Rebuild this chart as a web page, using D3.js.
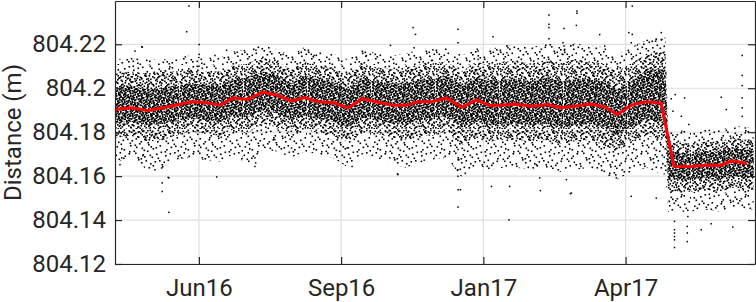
<!DOCTYPE html>
<html>
<head>
<meta charset="utf-8">
<script src="https://cdn.jsdelivr.net/npm/d3@7"></script>
<style>
    body { margin: 0; background: #fff; }
    text { font-family: Roboto, "Noto Sans", sans-serif; fill: #262626; }
</style>
</head>
<body>
<script>
// running median of the distance series (red line)
const medianDates = [
    "2016-04-17", "2016-04-28", "2016-05-10", "2016-05-21", "2016-05-30", "2016-06-09",
    "2016-06-18", "2016-06-30", "2016-07-09", "2016-07-19", "2016-07-30", "2016-08-09",
    "2016-08-19", "2016-08-28", "2016-09-08", "2016-09-17", "2016-09-28", "2016-10-08",
    "2016-10-18", "2016-10-29", "2016-11-08", "2016-11-17", "2016-11-26", "2016-12-06",
    "2016-12-17", "2016-12-27", "2017-01-06", "2017-01-15", "2017-01-24", "2017-02-04",
    "2017-02-15", "2017-02-24", "2017-03-06", "2017-03-17", "2017-03-27", "2017-04-05",
    "2017-04-15", "2017-04-26", "2017-05-06", "2017-05-15", "2017-05-26", "2017-06-07",
    "2017-06-16", "2017-06-25", "2017-07-05"
];
const medianValues = [
    804.1903, 804.1911, 804.1898, 804.1911, 804.1924, 804.1938,
    804.1936, 804.1923, 804.1956, 804.1949, 804.1982, 804.1968,
    804.1941, 804.1958, 804.1937, 804.1935, 804.1911, 804.1952,
    804.1937, 804.1923, 804.1923, 804.1939, 804.1939, 804.1956,
    804.1913, 804.1947, 804.1921, 804.1924, 804.1927, 804.1918,
    804.1926, 804.1911, 804.1918, 804.1928, 804.1917, 804.1880,
    804.1923, 804.1939, 804.1932, 804.1645, 804.1643, 804.1651,
    804.1648, 804.1670, 804.1657
];

// spread of the raw samples, read per ~10 days
const bandDates = [
    "2016-04-17", "2016-04-28", "2016-05-10", "2016-05-21", "2016-05-30", "2016-06-09",
    "2016-06-18", "2016-06-30", "2016-07-09", "2016-07-19", "2016-07-30", "2016-08-09",
    "2016-08-19", "2016-08-28", "2016-09-08", "2016-09-17", "2016-09-28", "2016-10-08",
    "2016-10-18", "2016-10-29", "2016-11-08", "2016-11-17", "2016-11-26", "2016-12-06",
    "2016-12-17", "2016-12-27", "2017-01-06", "2017-01-15", "2017-01-24", "2017-02-04",
    "2017-02-15", "2017-02-24", "2017-03-06", "2017-03-17", "2017-03-27", "2017-04-05",
    "2017-04-15", "2017-04-26", "2017-05-06", "2017-05-09", "2017-05-11", "2017-05-15",
    "2017-05-26", "2017-06-07", "2017-06-16", "2017-06-25", "2017-07-05", "2017-07-10"
];
const outerHigh = [
    804.2131, 804.2140, 804.2131, 804.2131, 804.2140, 804.2149, 804.2140, 804.2140,
    804.2167, 804.2177, 804.2199, 804.2177, 804.2149, 804.2186, 804.2167, 804.2158,
    804.2131, 804.2177, 804.2158, 804.2149, 804.2158, 804.2177, 804.2177, 804.2186,
    804.2149, 804.2186, 804.2177, 804.2195, 804.2195, 804.2186, 804.2204, 804.2195,
    804.2204, 804.2195, 804.2186, 804.2149, 804.2186, 804.2222, 804.2231, 804.2231,
    804.1803, 804.1812, 804.1803, 804.1812, 804.1812, 804.1830, 804.1821, 804.1821
];
const midHigh = [
    804.2067, 804.2076, 804.2067, 804.2076, 804.2076, 804.2085, 804.2076, 804.2076,
    804.2104, 804.2113, 804.2140, 804.2122, 804.2085, 804.2122, 804.2104, 804.2094,
    804.2058, 804.2113, 804.2094, 804.2085, 804.2094, 804.2113, 804.2113, 804.2122,
    804.2076, 804.2122, 804.2104, 804.2122, 804.2122, 804.2113, 804.2131, 804.2113,
    804.2131, 804.2122, 804.2113, 804.2076, 804.2113, 804.2158, 804.2167, 804.2167,
    804.1757, 804.1757, 804.1748, 804.1757, 804.1757, 804.1775, 804.1766, 804.1766
];
const coreHigh = [
    804.2003, 804.2012, 804.1994, 804.2003, 804.2012, 804.2022, 804.2017, 804.2012,
    804.2040, 804.2049, 804.2076, 804.2058, 804.2022, 804.2058, 804.2040, 804.2031,
    804.1994, 804.2049, 804.2031, 804.2022, 804.2022, 804.2040, 804.2040, 804.2058,
    804.2012, 804.2049, 804.2031, 804.2040, 804.2040, 804.2031, 804.2049, 804.2031,
    804.2040, 804.2040, 804.2031, 804.1994, 804.2031, 804.2085, 804.2085, 804.2085,
    804.1712, 804.1712, 804.1702, 804.1712, 804.1712, 804.1730, 804.1721, 804.1721
];
const coreLow = [
    804.1839, 804.1848, 804.1830, 804.1839, 804.1848, 804.1866, 804.1857, 804.1848,
    804.1876, 804.1866, 804.1903, 804.1885, 804.1857, 804.1876, 804.1857, 804.1848,
    804.1821, 804.1866, 804.1857, 804.1839, 804.1839, 804.1857, 804.1857, 804.1876,
    804.1821, 804.1857, 804.1830, 804.1839, 804.1839, 804.1830, 804.1839, 804.1821,
    804.1830, 804.1839, 804.1821, 804.1784, 804.1830, 804.1857, 804.1848, 804.1848,
    804.1584, 804.1584, 804.1584, 804.1593, 804.1584, 804.1602, 804.1593, 804.1593
];
const midLow = [
    804.1775, 804.1784, 804.1757, 804.1766, 804.1784, 804.1803, 804.1794, 804.1784,
    804.1812, 804.1794, 804.1839, 804.1821, 804.1794, 804.1812, 804.1794, 804.1784,
    804.1757, 804.1803, 804.1794, 804.1775, 804.1766, 804.1784, 804.1784, 804.1803,
    804.1739, 804.1784, 804.1757, 804.1766, 804.1766, 804.1757, 804.1766, 804.1748,
    804.1757, 804.1766, 804.1739, 804.1712, 804.1757, 804.1784, 804.1766, 804.1766,
    804.1529, 804.1529, 804.1529, 804.1538, 804.1529, 804.1547, 804.1538, 804.1538
];
const outerLow = [
    804.1666, 804.1675, 804.1629, 804.1638, 804.1675, 804.1684, 804.1675, 804.1666,
    804.1698, 804.1652, 804.1721, 804.1712, 804.1684, 804.1712, 804.1698, 804.1684,
    804.1638, 804.1698, 804.1684, 804.1652, 804.1638, 804.1666, 804.1675, 804.1684,
    804.1593, 804.1652, 804.1629, 804.1638, 804.1638, 804.1629, 804.1638, 804.1620,
    804.1629, 804.1638, 804.1607, 804.1584, 804.1620, 804.1638, 804.1607, 804.1607,
    804.1438, 804.1438, 804.1438, 804.1447, 804.1438, 804.1456, 804.1447, 804.1447
];

// isolated samples away from the cloud: [days after dayZero, distance]
const dayZero = "2016-04-17";
const outliers = [
    [52.0, 804.2374], [50.4, 804.2257], [59.2, 804.2199], [59.0, 804.2100], [14.1, 804.2169],
    [19.2, 804.2187], [11.7, 804.2134], [33.2, 804.1569], [33.2, 804.1530], [37.9, 804.1435],
    [37.9, 804.1592], [71.5, 804.1596], [18.8, 804.2189], [19.5, 804.1693], [3.5, 804.1652],
    [32.8, 804.1637], [37.4, 804.1594], [44.5, 804.1690], [46.9, 804.1683], [98.4, 804.1644],
    [98.4, 804.1683], [99.1, 804.2173], [78.5, 804.2173], [70.3, 804.2149], [59.2, 804.2154],
    [209.6, 804.2276], [211.3, 804.2245], [210.3, 804.2184], [241.2, 804.2268], [241.2, 804.2207],
    [193.7, 804.2195], [265.8, 804.2234], [140.0, 804.2149], [118.2, 804.2154], [176.8, 804.2149],
    [222.5, 804.2126], [255.3, 804.2169], [199.0, 804.1607], [193.2, 804.1683], [166.7, 804.1644],
    [163.2, 804.1728], [124.1, 804.1728], [112.4, 804.1766], [241.2, 804.1721], [241.2, 804.1675],
    [241.2, 804.1629], [241.2, 804.1599], [241.2, 804.1538], [241.2, 804.1459], [242.9, 804.1538],
    [315.0, 804.2207], [315.0, 804.2154], [315.0, 804.2108], [276.3, 804.2184], [215.5, 804.1667],
    [264.7, 804.1553], [277.5, 804.1553], [298.6, 804.1592], [296.3, 804.1652], [198.6, 804.1610],
    [277.0, 804.1401], [305.1, 804.2333], [305.1, 804.2291], [305.1, 804.2276], [305.1, 804.2225],
    [324.8, 804.2351], [324.8, 804.2341], [324.4, 804.2286], [315.7, 804.2272], [315.7, 804.2192],
    [340.8, 804.2244], [275.6, 804.2192], [275.6, 804.2162], [363.7, 804.2374], [361.3, 804.2253],
    [363.7, 804.2245], [380.1, 804.2214], [384.1, 804.2253], [384.5, 804.2222], [363.0, 804.2207],
    [344.3, 804.2192], [441.0, 804.2149], [441.0, 804.2058], [441.0, 804.2012], [441.0, 804.1956],
    [426.3, 804.1959], [393.9, 804.1971], [391.1, 804.1952], [441.0, 804.1911], [441.0, 804.1872],
    [429.8, 804.1903], [398.2, 804.1872], [392.3, 804.1895], [403.5, 804.1835], [400.5, 804.1956],
    [316.2, 804.2177], [380.6, 804.2222], [317.4, 804.1584], [320.9, 804.1523], [363.0, 804.1508],
    [352.5, 804.1592], [393.4, 804.1394], [393.4, 804.1341], [402.4, 804.1371], [402.4, 804.1341],
    [412.2, 804.1356], [419.2, 804.1383], [434.4, 804.1368], [380.6, 804.1500], [299.1, 804.1534],
    [320.2, 804.1520], [393.4, 804.1356], [393.4, 804.1325], [393.4, 804.1275], [393.4, 804.1310],
    [402.4, 804.1302], [402.8, 804.1416], [4.7, 804.1683], [28.1, 804.1629], [98.9, 804.1660],
    [255.3, 804.2131]
];

const xDomain = ["2016-04-17", "2017-07-11"];
const xTickDates = ["2016-06-15", "2016-09-23", "2017-01-01", "2017-04-11"];
const xTickLabels = ["Jun16", "Sep16", "Jan17", "Apr17"];
const yDomain = [804.12, 804.2397];
const yTicks = [804.12, 804.14, 804.16, 804.18, 804.2, 804.22];
const yTickLabels = ["804.12", "804.14", "804.16", "804.18", "804.2", "804.22"];

const width = 756;
const height = 302;
const margin = { top: 1, right: 1, bottom: 38, left: 115 };
const innerW = width - margin.left - margin.right;
const innerH = height - margin.top - margin.bottom;

const parse = d3.timeParse("%Y-%m-%d");
const t0 = parse(dayZero);

const x = d3.scaleTime().domain(xDomain.map(parse)).range([0, innerW]);
const y = d3.scaleLinear().domain(yDomain).range([innerH, 0]);

const svg = d3
    .select("body")
    .append("svg")
    .attr("width", width)
    .attr("height", height);

const defs = svg.append("defs");

defs.append("clipPath")
    .attr("id", "plot-clip")
    .append("rect")
    .attr("width", innerW)
    .attr("height", innerH);

// stipple textures used to paint the sample cloud (Halton point set)
function halton(i, b) {
    let f = 1, r = 0;
    while (i > 0) {
        f /= b;
        r += f * (i % b);
        i = Math.floor(i / b);
    }
    return r;
}
const tile = 64;
function stipple(id, n0, n1) {
    const p = defs
        .append("pattern")
        .attr("id", id)
        .attr("patternUnits", "userSpaceOnUse")
        .attr("width", tile)
        .attr("height", tile);
    for (let n = n0; n < n1; n++) {
        p.append("rect")
            .attr("x", Math.round(halton(n, 2) * tile * 2) / 2)
            .attr("y", Math.round(halton(n, 3) * tile * 2) / 2)
            .attr("width", 1.6)
            .attr("height", 1.6)
            .attr("fill", "#000");
    }
}
stipple("dots-outer", 1, 180);
stipple("dots-mid", 180, 620);
stipple("dots-core", 620, 1350);

const g = svg
    .append("g")
    .attr("transform", `translate(${margin.left},${margin.top})`);

// grid
g.append("g")
    .selectAll("line")
    .data(xTickDates.map(parse))
    .enter()
    .append("line")
    .attr("x1", (d) => x(d))
    .attr("x2", (d) => x(d))
    .attr("y1", 0)
    .attr("y2", innerH)
    .attr("stroke", "#dfdfdf")
    .attr("stroke-width", 1.2);

g.append("g")
    .selectAll("line")
    .data(yTicks)
    .enter()
    .append("line")
    .attr("x1", 0)
    .attr("x2", innerW)
    .attr("y1", (d) => y(d))
    .attr("y2", (d) => y(d))
    .attr("stroke", "#dfdfdf")
    .attr("stroke-width", 1.2);

const plot = g.append("g").attr("clip-path", "url(#plot-clip)");

const bands = bandDates.map((d, i) => ({
    date: parse(d),
    oLo: outerLow[i],
    oHi: outerHigh[i],
    mLo: midLow[i],
    mHi: midHigh[i],
    cLo: coreLow[i],
    cHi: coreHigh[i],
}));

function band(lo, hi) {
    return d3
        .area()
        .x((d) => x(d.date))
        .y0((d) => y(d[lo]))
        .y1((d) => y(d[hi]));
}

plot.append("path").datum(bands).attr("d", band("oLo", "oHi")).attr("fill", "url(#dots-outer)");
plot.append("path").datum(bands).attr("d", band("mLo", "mHi")).attr("fill", "url(#dots-mid)");
plot.append("path").datum(bands).attr("d", band("cLo", "cHi")).attr("fill", "url(#dots-core)");

plot.append("g")
    .selectAll("rect")
    .data(outliers)
    .enter()
    .append("rect")
    .attr("x", (d) => x(new Date(t0.getTime() + d[0] * 864e5)) - 0.75)
    .attr("y", (d) => y(d[1]) - 0.75)
    .attr("width", 1.5)
    .attr("height", 1.5)
    .attr("fill", "#000");

// running median
const medianData = medianDates.map((d, i) => ({ date: parse(d), value: medianValues[i] }));
plot.append("path")
    .datum(medianData)
    .attr("d", d3.line().x((d) => x(d.date)).y((d) => y(d.value)))
    .attr("fill", "none")
    .attr("stroke", "#ff0000")
    .attr("stroke-width", 3)
    .attr("stroke-linejoin", "round");

// axes, box with inward ticks
const xTicks = xTickDates.map(parse);
function styleAxis(sel) {
    sel.selectAll("path.domain").attr("stroke", "#262626").attr("stroke-width", 1.2).attr("fill", "none");
    sel.selectAll(".tick line").attr("stroke", "#262626").attr("stroke-width", 1.2);
    sel.selectAll(".tick text").style("font-size", "24px").attr("fill", "#262626");
}

g.append("g")
    .attr("transform", `translate(0,${innerH})`)
    .call(
        d3.axisBottom(x)
            .tickValues(xTicks)
            .tickFormat((d, i) => xTickLabels[i])
            .tickSizeInner(-7)
            .tickSizeOuter(0)
            .tickPadding(14.5)
    )
    .call(styleAxis);

g.append("g")
    .call(d3.axisTop(x).tickValues(xTicks).tickFormat("").tickSizeInner(-7).tickSizeOuter(0))
    .call(styleAxis);

g.append("g")
    .call(
        d3.axisLeft(y)
            .tickValues(yTicks)
            .tickFormat((d, i) => yTickLabels[i])
            .tickSizeInner(-7)
            .tickSizeOuter(0)
            .tickPadding(9)
    )
    .call(styleAxis);

g.append("g")
    .attr("transform", `translate(${innerW},0)`)
    .call(d3.axisRight(y).tickValues(yTicks).tickFormat("").tickSizeInner(-7).tickSizeOuter(0))
    .call(styleAxis);

svg.append("text")
    .attr("transform", `translate(21,${margin.top + innerH / 2}) rotate(-90)`)
    .attr("text-anchor", "middle")
    .style("font-size", "24px")
    .text("Distance (m)");
</script>
</body>
</html>
